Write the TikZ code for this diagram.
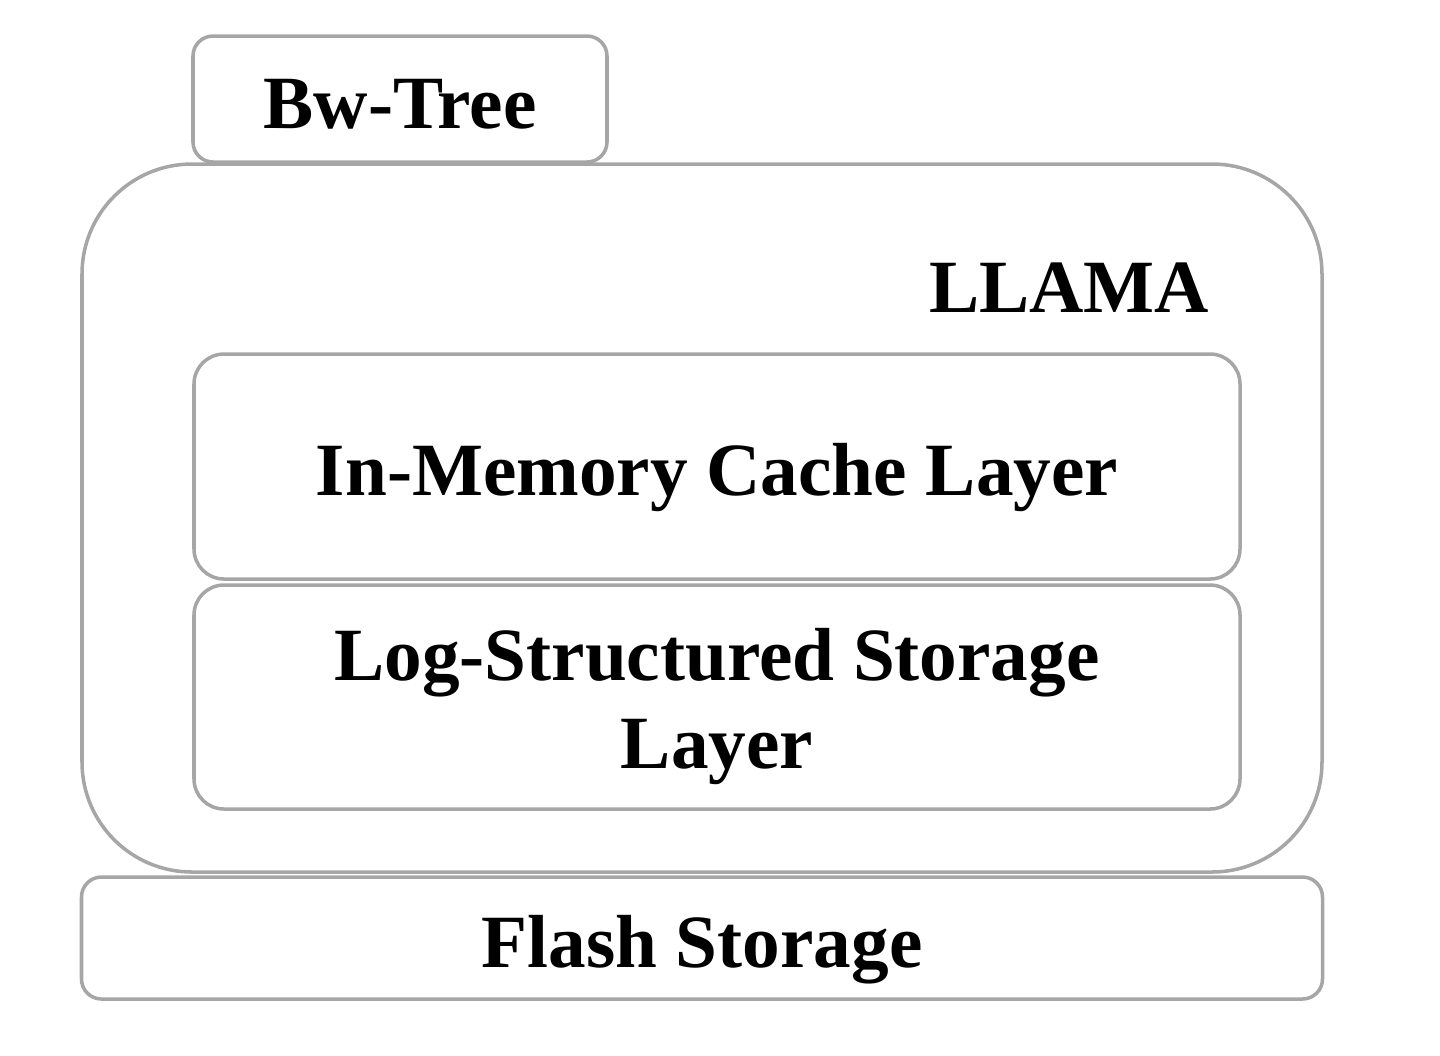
\documentclass[tikz,border=0pt]{standalone}
\usepackage{fontspec}
\setmainfont{Liberation Serif}
\usepackage{xcolor}
\usepackage{tikz}
\usetikzlibrary{positioning}
\definecolor{boxgray}{HTML}{A6A6A6}

\begin{document}
\begin{tikzpicture}[
    block/.style={rectangle, draw=boxgray, line width=1pt, rounded corners=#1, align=center,
        text height=0.58cm, text depth=0pt, font=\fontsize{21.4}{25}\selectfont\bfseries},
    block/.default=6mm,
]
\useasboundingbox (0,0) rectangle (14.4,-10.55);

% outer LLAMA shell
\node[block=11mm, minimum width=12.40cm, minimum height=7.08cm] (llama) at (7.02,-5.18) {};
\node[font=\fontsize{21.4}{25}\selectfont\bfseries, anchor=base east, inner sep=0pt] (llamalabel) at (12.10,-3.12) {LLAMA};

% top and bottom
\node[block=2mm, minimum width=4.14cm, minimum height=1.26cm] (bwtree) at (4.00,-0.99) {Bw-Tree};
\node[block=2mm, minimum width=12.41cm, minimum height=1.22cm] (flash) at (7.02,-9.38) {Flash Storage};

% inner layers
\node[block=3mm, minimum width=10.46cm, minimum height=2.25cm] (cache) at (7.17,-4.665) {In-Memory Cache Layer};
\node[block=3mm, minimum width=10.46cm, minimum height=2.24cm, text height=1.42cm] (logstore) at (7.17,-6.97) {Log-Structured Storage\\Layer};

\end{tikzpicture}
\end{document}
